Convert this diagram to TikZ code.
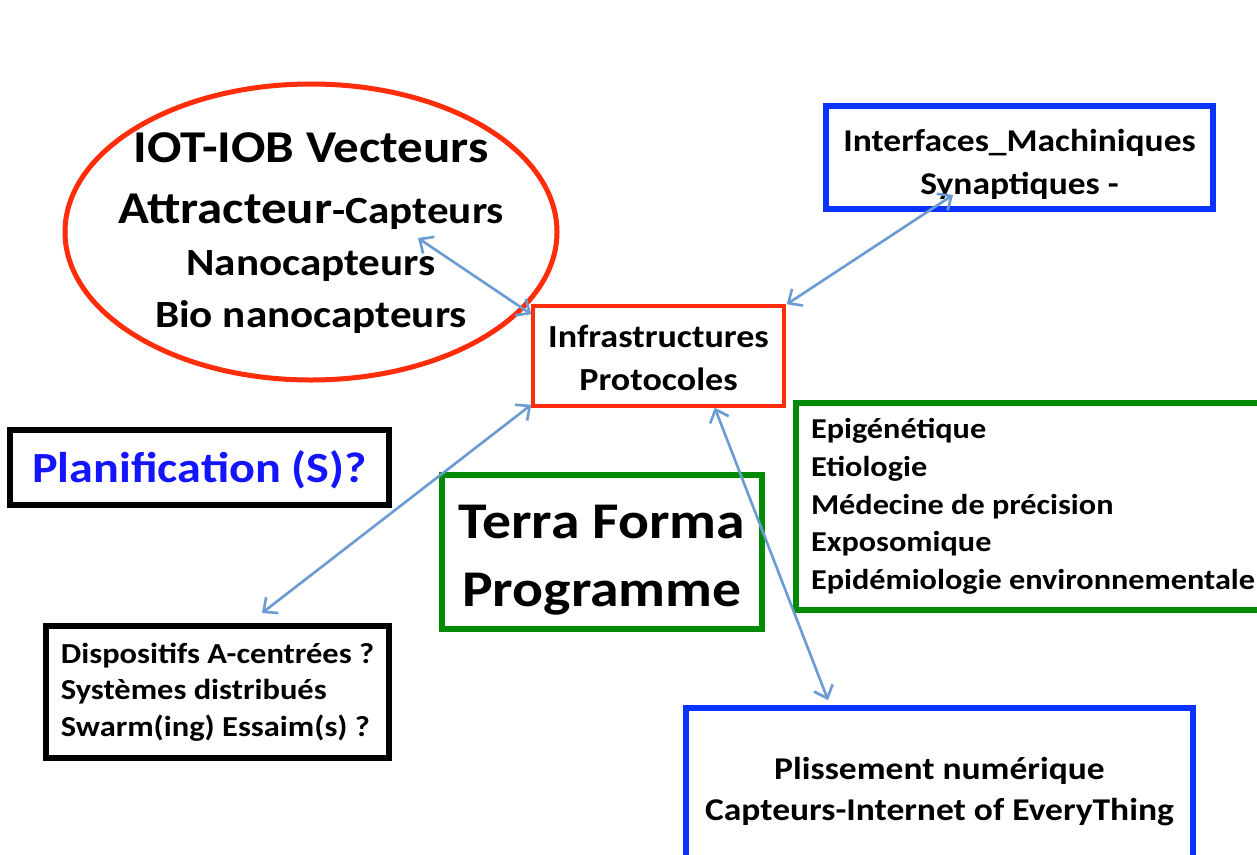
\documentclass[tikz,border=0pt]{standalone}
\usepackage{fontspec}
\setmainfont{Carlito}[FakeStretch=1.12]
\usepackage{xcolor}
\usepackage{tikz}
\usetikzlibrary{calc,shapes.geometric,arrows.meta}
\definecolor{rouge}{HTML}{FF2D0A}
\definecolor{bleu}{HTML}{0A33FF}
\definecolor{bleutxt}{HTML}{1414FF}
\definecolor{vert}{HTML}{058A05}
\definecolor{lien}{HTML}{6A9BD2}
\tikzset{
  boite/.style={draw, line width=6pt, inner sep=0pt, align=center, font=\bfseries},
  liste/.style={draw, line width=6pt, inner xsep=15pt, inner ysep=0pt, align=flush left, font=\bfseries},
  fleche/.style={draw=lien, line width=2.6pt, line cap=round,
    {Straight Barb[length=11pt,width=20pt]}-{Straight Barb[length=11pt,width=20pt]}},
}

\begin{document}
\begin{tikzpicture}[x=1pt,y=-1pt]
  \clip (0,0) rectangle (1257,854);
  \fill[white] (0,0) rectangle (1257,854);

  % capteurs (ellipse)
  \node[ellipse, draw=rouge, line width=5pt, minimum width=492pt, minimum height=296pt,
    inner xsep=-40pt, inner ysep=-20pt, align=center, font=\bfseries\fontsize{45.5}{52}\selectfont] (iot) at (311,232)
    {\rule{0pt}{32pt}IOT-IOB Vecteurs\\[9pt]Attracteur{\fontsize{38.5}{52}\selectfont-Capteurs}\\
     {\fontsize{38.5}{52}\selectfont Nanocapteurs}\\{\fontsize{38.5}{51}\selectfont Bio nanocapteurs}};

  % centre
  \node[boite, draw=rouge, line width=3.5pt, minimum width=251pt, minimum height=100pt,
    font=\bfseries\fontsize{32.2}{43}\selectfont] (infra) at (658.5,356) {\rule{0pt}{27pt}Infrastructures\\Protocoles};

  \node[boite, draw=bleu, minimum width=387pt, minimum height=103pt,
    font=\bfseries\fontsize{31.7}{43}\selectfont] (synap) at (1019.5,157.5) {\rule{0pt}{36pt}Interfaces\_Machiniques\\Synaptiques -};

  \node[boite, draw=black, minimum width=379pt, minimum height=75pt,
    font=\bfseries\fontsize{43}{55}\selectfont, text=bleutxt] (planif) at (199.5,467.5) {\rule{0pt}{37pt}Planification (S)?};

  \node[boite, draw=vert, minimum width=320pt, minimum height=154pt,
    font=\bfseries\fontsize{51.5}{68}\selectfont] (terra) at (602,552) {\rule{0pt}{50pt}Terra Forma\\Programme};

  \node[liste, draw=vert, anchor=north west, text width=500pt, minimum height=207pt,
    font=\bfseries\fontsize{28.8}{37.8}\selectfont] (sante) at (793,400)
    {Epigénétique\\Etiologie\\Médecine de précision\\Exposomique\\Epidémiologie environnementale};

  \node[liste, draw=black, align=left, minimum width=343pt, minimum height=132pt, inner xsep=0pt,
    font=\bfseries\fontsize{29}{36.5}\selectfont] (dispo) at (217.5,692)
    {Dispositifs A-centrées ?\\Systèmes distribués\\Swarm(ing) Essaim(s) ?};

  \node[boite, draw=bleu, anchor=north west, minimum width=507pt, minimum height=190pt,
    font=\bfseries\fontsize{31.7}{41}\selectfont] (pliss) at (683,705) {~\\[-6pt]Plissement numérique\\Capteurs-Internet of EveryThing\\~};

  % liens
  \coordinate (iotpt) at (418,238);
  \coordinate (synpt) at (953,195);
  \coordinate (dispopt) at (262,613);
  \coordinate (plisspt) at (828,700);
  \draw[fleche] (iotpt) -- ([yshift=-10pt]infra.north west);
  \draw[fleche] (synpt) -- ([xshift=1pt]infra.north east);
  \draw[fleche] ([yshift=3pt]infra.south west) -- (dispopt);
  \draw[fleche] ([xshift=-71pt]infra.south east) -- (plisspt);
\end{tikzpicture}
\end{document}
